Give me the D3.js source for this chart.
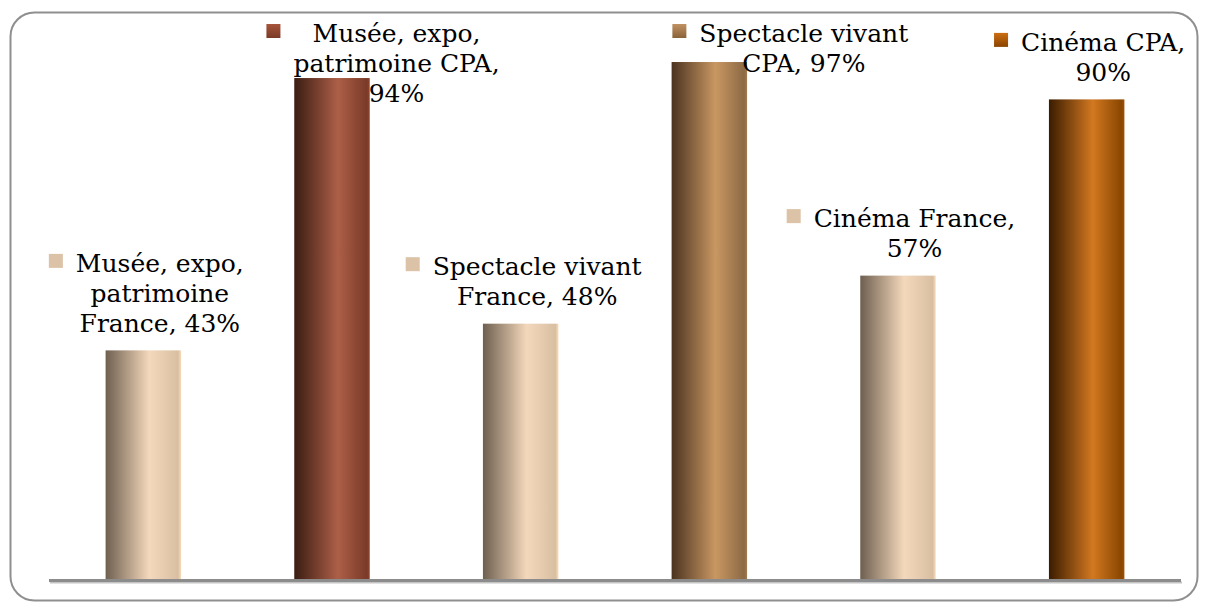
<!DOCTYPE html>
<html>
<head>
<meta charset="utf-8">
<script src="https://cdn.jsdelivr.net/npm/d3@7/dist/d3.min.js"></script>
<style>
  html, body { margin: 0; padding: 0; background: #fff; }
  svg { display: block; }
  .label { font-family: "DejaVu Serif", serif; font-size: 25px; fill: #000; }
</style>
</head>
<body>
<svg id="chart" width="1207" height="608"></svg>
<script>
const categories = ["Musée, expo, patrimoine France", "Musée, expo, patrimoine CPA",
			"Spectacle vivant France", "Spectacle vivant CPA",
			"Cinéma France", "Cinéma CPA"];
const values = [0.43, 0.94, 0.48, 0.97, 0.57, 0.90];

// Cylinder-like horizontal shading for each bar: left, middle, right
const shades = [
	["#6e5f50", "#f4d8bb", "#d9bfa2"],
	["#3a1c12", "#ad5f48", "#7a3a28"],
	["#6e5f50", "#f4d8bb", "#d9bfa2"],
	["#4a3320", "#c99762", "#8c6a45"],
	["#6e5f50", "#f4d8bb", "#d9bfa2"],
	["#3a1c00", "#d27820", "#8a4600"]
];
// Legend key colours (top, bottom)
const keys = [
	["#dcc2a6", "#dcc2a6"],
	["#a8553c", "#7a3a26"],
	["#dcc2a6", "#dcc2a6"],
	["#c09262", "#8a6238"],
	["#dcc2a6", "#dcc2a6"],
	["#cc6e12", "#8a4400"]
];
// Sideways nudge for labels pushed against the top edge
const labelNudge = [0, 48, 0, 78, 0, 0];

const svg = d3.select("#chart");
const defs = svg.append("defs");

const x = d3.scaleBand()
		.domain(categories)
		.range([49, 1181])
		.paddingInner(0.6)
		.paddingOuter(0.3);

const y = d3.scaleLinear()
		.domain([0, 1])
		.range([580, 46]);

// Frame
svg.append("rect")
		.attr("x", 10.5).attr("y", 12.5)
		.attr("width", 1187).attr("height", 588)
		.attr("rx", 24).attr("ry", 24)
		.attr("fill", "none")
		.attr("stroke", "#8f8f8f")
		.attr("stroke-width", 2);

// Gradients
shades.forEach((s, i) => {
	const g = defs.append("linearGradient")
			.attr("id", "bar" + i)
			.attr("x1", "0").attr("x2", "1").attr("y1", "0").attr("y2", "0");
	g.append("stop").attr("offset", "0%").attr("stop-color", s[0]);
	g.append("stop").attr("offset", "58%").attr("stop-color", s[1]);
	g.append("stop").attr("offset", "96%").attr("stop-color", s[2]);
	g.append("stop").attr("offset", "100%").attr("stop-color", d3.color(s[2]).brighter(0.4));
});
keys.forEach((k, i) => {
	const g = defs.append("linearGradient")
			.attr("id", "key" + i)
			.attr("x1", "0").attr("x2", "0").attr("y1", "0").attr("y2", "1");
	g.append("stop").attr("offset", "0%").attr("stop-color", k[0]);
	g.append("stop").attr("offset", "100%").attr("stop-color", k[1]);
});

// Bars
svg.selectAll(".bar")
	.data(values)
	.enter()
	.append("rect")
		.attr("class", "bar")
		.attr("x", (d, i) => x(categories[i]))
		.attr("y", d => y(d))
		.attr("width", x.bandwidth())
		.attr("height", d => y(0) - y(d))
		.attr("fill", (d, i) => `url(#bar${i})`);

// Axis line with a soft shadow
svg.append("line")
		.attr("x1", 50).attr("x2", 1182)
		.attr("y1", y(0) + 2.5).attr("y2", y(0) + 2.5)
		.attr("stroke", "#c4c4c4").attr("stroke-width", 2);
svg.append("line")
		.attr("x1", 49).attr("x2", 1181)
		.attr("y1", y(0) + 0.5).attr("y2", y(0) + 0.5)
		.attr("stroke", "#8c8c8c").attr("stroke-width", 3);

// Data labels: word wrapped, a key square before the first line
const lineHeight = 30,
			wrapWidth = 216,
			keySize = 14,
			keyGap = 13;

const measure = svg.append("text").attr("class", "label");
function textWidth(s) {
	measure.text(s);
	return measure.node().getComputedTextLength();
}

function wrap(s) {
	const words = s.split(" ");
	const lines = [];
	let line = words[0];
	for (let k = 1; k < words.length; k++) {
		const test = line + " " + words[k];
		if (textWidth(test) > wrapWidth) {
			lines.push(line);
			line = words[k];
		} else {
			line = test;
		}
	}
	lines.push(line);
	return lines;
}

values.forEach((v, i) => {
	const lines = wrap(categories[i] + ", " + d3.format(".0%")(v));
	const widths = lines.map(textWidth);
	const blockW = d3.max(widths);
	const total = keySize + keyGap + blockW;
	const cx = x(categories[i]) + x.bandwidth() / 2 + 3 + labelNudge[i];
	const left = cx - total / 2;
	const textCx = left + keySize + keyGap + blockW / 2;
	let firstBase = y(v) - 18.5 - lineHeight * (lines.length - 1);
	firstBase = Math.max(firstBase, 42);

	const g = svg.append("g");
	g.append("rect")
			.attr("x", left)
			.attr("y", firstBase - 18)
			.attr("width", keySize)
			.attr("height", keySize)
			.attr("fill", `url(#key${i})`);
	const t = g.append("text")
			.attr("class", "label")
			.attr("text-anchor", "middle");
	lines.forEach((l, k) => {
		t.append("tspan")
				.attr("x", textCx)
				.attr("y", firstBase + k * lineHeight)
				.text(l);
	});
});
measure.remove();
</script>
</body>
</html>
